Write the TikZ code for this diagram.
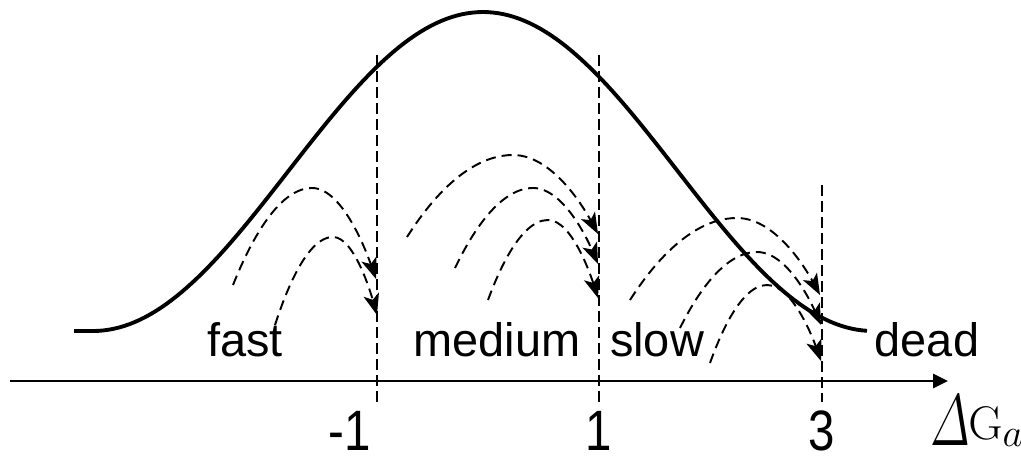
\documentclass[tikz,border=0pt]{standalone}
\usepackage{amsmath}
\usepackage[no-math]{fontspec}
\setmainfont{Liberation Sans}
\usetikzlibrary{arrows.meta}
\begin{document}
\begin{tikzpicture}[x=0.02cm,y=-0.02cm,
  bell/.style={line width=2.2pt,line join=round},
  axisline/.style={line width=1.4pt,-{Triangle[length=8.5pt,width=8pt]}},
  vdash/.style={line width=1.1pt,dash pattern=on 0.22cm off 0.1cm},
  move/.style={line width=1.1pt,dash pattern=on 0.2cm off 0.12cm,-{Stealth[length=12pt,width=9pt,inset=3pt]}},
  lab/.style={anchor=base,inner sep=0pt,font=\fontsize{26.7}{30}\selectfont},
  num/.style={anchor=base,inner sep=0pt,font=\fontsize{27}{30}\selectfont}]
\useasboundingbox (0,0) rectangle (1021,459);
% bell curve
\draw[bell] (74,331) -- (93,331) -- plot[domain=-390:384,samples=150] ({483+\x},{331-319*cos(\x/4.33333)*cos(\x/4.33333)});
% axis
\coordinate (ax0) at (10,381);
\coordinate (ax1) at (948,381);
\draw[axisline] (ax0) -- (ax1);
% vertical dashed lines
\coordinate (v1t) at (377,55); \coordinate (v1b) at (377,402);
\coordinate (v2t) at (599,55); \coordinate (v2b) at (599,402);
\coordinate (v3t) at (822,185); \coordinate (v3b) at (822,402);
\draw[vdash] (v1t) -- (v1b);
\draw[vdash] (v2t) -- (v2b);
\draw[vdash] (v3t) -- (v3b);
% fast
\draw[move] (233,285) parabola bend (312,188) (376,279);
\draw[move] (275,325) parabola bend (333,237) (377,315);
% medium
\draw[move] (407,237) parabola bend (513,155) (598,234);
\draw[move] (455,268) parabola bend (533,188) (598,264);
\draw[move] (488,300) parabola bend (548,220) (598,298);
% slow
\draw[move] (630,300) parabola bend (737,218) (820,295);
\draw[move] (680,328) parabola bend (757,252) (821,325);
\draw[move] (710,363) parabola bend (767,285) (821,361);
% labels
\node[lab] (fast) at (245,356) {fast};
\node[lab] (medium) at (497,357) {medium};
\node[lab] (slow) at (657,356) {slow};
\node[lab] (dead) at (927,357) {dead};
\node[num] (m1) at (350,450) {\scalebox{1}[1.2]{-1}};
\node[num] (p1) at (599,450) {\scalebox{1}[1.2]{1}};
\node[num] (p3) at (822,450) {\scalebox{1}[1.2]{3}};
\node[anchor=base west,inner sep=0pt,font=\Huge] (delta) at (930,445) {\scalebox{1.11}[1.67]{$\varDelta$}};
\node[anchor=base west,inner sep=0pt,font=\Huge] (ga) at (968,439) {\scalebox{1.08}{$\mathrm{G}_a$}};
\end{tikzpicture}
\end{document}
